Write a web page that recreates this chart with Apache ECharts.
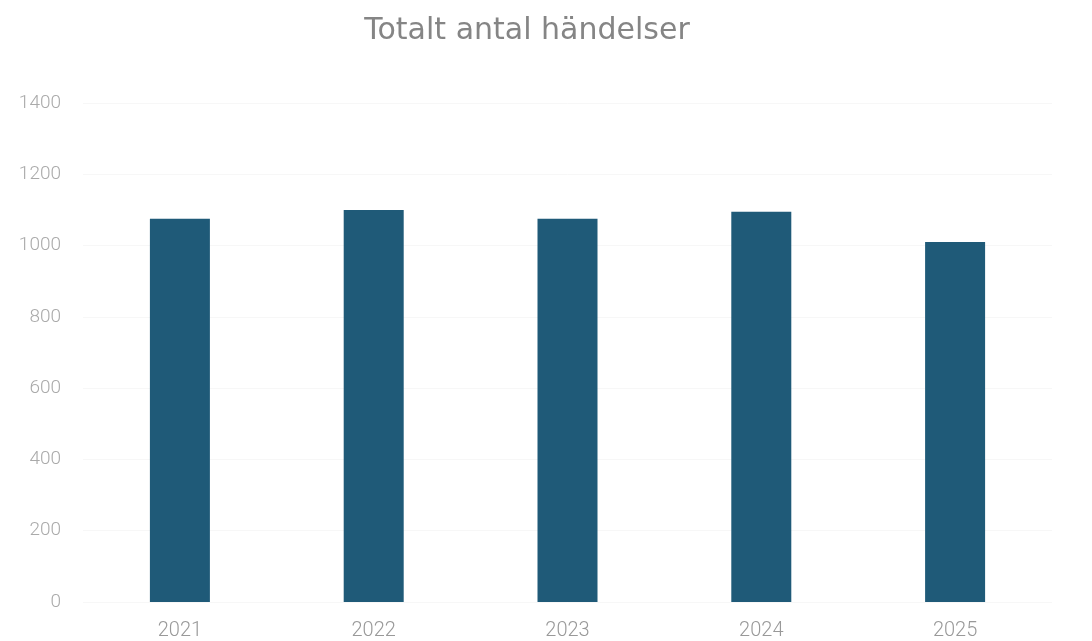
<!DOCTYPE html>
<html><head><meta charset="utf-8">
<script src="https://cdn.jsdelivr.net/npm/echarts@6/dist/echarts.min.js"></script>
<style>html,body{margin:0;padding:0;background:#fff}#c{width:1092px;height:641px}</style>
</head><body><div id="c"></div>
<script>
const categories = ['2021', '2022', '2023', '2024', '2025'];
const values = [1075, 1100, 1075, 1095, 1010];
const yTicks = [0, 200, 400, 600, 800, 1000, 1200, 1400];
const title = 'Totalt antal händelser';

const chart = echarts.init(document.getElementById('c'));
chart.setOption({
  animation: false,
  backgroundColor: '#fff',
  title: {
    text: title, left: 522, top: 11, textAlign: 'center',
    textStyle: { fontFamily: 'DejaVu Sans', fontWeight: 'normal', fontSize: 30, color: '#858585' }
  },
  grid: { left: 83, right: 40, top: 103, bottom: 39, containLabel: false },
  xAxis: {
    type: 'category', data: categories,
    axisLine: { show: false }, axisTick: { show: false },
    axisLabel: { margin: 19, fontFamily: 'Roboto', fontWeight: 300, fontSize: 20, color: '#999' }
  },
  yAxis: {
    type: 'value', min: yTicks[0], max: yTicks[yTicks.length - 1], interval: 200,
    axisLine: { show: false }, axisTick: { show: false },
    splitLine: { show: true, lineStyle: { color: '#f7f7f7' } },
    axisLabel: { margin: 22, fontFamily: 'Roboto', fontWeight: 300, fontSize: 19, color: '#aaa',
      formatter: v => String(v) }
  },
  series: [{
    type: 'bar', data: values, barWidth: 60,
    itemStyle: { color: '#1f5a78' }
  }]
});
</script></body></html>
